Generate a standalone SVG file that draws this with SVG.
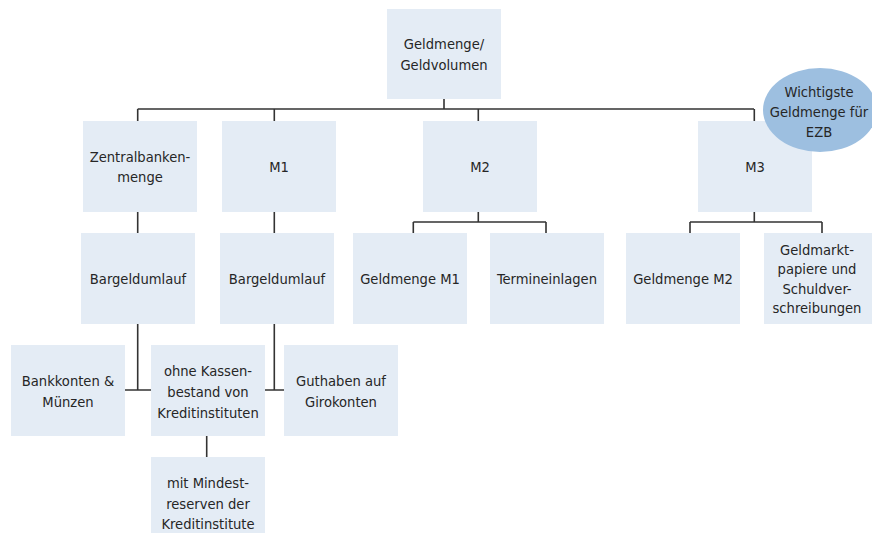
<svg xmlns="http://www.w3.org/2000/svg" width="872" height="533" viewBox="0 0 872 533">
<style>
.box{fill:#e4ecf5;}
.ell{fill:#9dbfe0;}
.t{font-family:"DejaVu Sans Condensed","DejaVu Sans","Liberation Sans",sans-serif;font-stretch:condensed;font-size:14.6px;fill:#262626;text-anchor:middle;}
.c{stroke:#333;stroke-width:1.6;fill:none;}
</style>
<rect width="872" height="533" fill="#fff"/>
<g id="connectors">
<path class="c" d="M444,99V109M137.7,109H754M137.7,109V121M274.3,109V121M478.3,109V121M754.3,109V121"/>
<path class="c" d="M137.7,212V233M137.7,324V390M125,390H151"/>
<path class="c" d="M274.3,212V233M274.3,324V390M265,390H284"/>
<path class="c" d="M478.3,212V222M413.3,222H546M413.3,222V233M546,222V233"/>
<path class="c" d="M754.3,212V222M690,222H822M690,222V233M822,222V233"/>
<path class="c" d="M206.7,436V457"/>
</g>
<g id="n-top"><rect class="box" x="387" y="9" width="114" height="90"/><text class="t" x="444" y="49">Geldmenge/</text><text class="t" x="444" y="70">Geldvolumen</text></g>
<g id="n-zentral"><rect class="box" x="83" y="121" width="114" height="91"/><text class="t" x="140" y="162">Zentralbanken-</text><text class="t" x="140" y="182">menge</text></g>
<g id="n-m1"><rect class="box" x="222" y="121" width="114" height="91"/><text class="t" x="279" y="172">M1</text></g>
<g id="n-m2"><rect class="box" x="423" y="121" width="114" height="91"/><text class="t" x="480" y="172">M2</text></g>
<g id="n-m3"><rect class="box" x="698" y="121" width="114" height="91"/><text class="t" x="755" y="172">M3</text></g>
<g id="n-ezb"><ellipse class="ell" cx="820" cy="110" rx="57" ry="42"/><text class="t" x="819" y="97">Wichtigste</text><text class="t" x="819" y="117">Geldmenge für</text><text class="t" x="819" y="137">EZB</text></g>
<g id="n-barg1"><rect class="box" x="81" y="233" width="114" height="91"/><text class="t" x="138" y="284">Bargeldumlauf</text></g>
<g id="n-barg2"><rect class="box" x="220" y="233" width="114" height="91"/><text class="t" x="277" y="284">Bargeldumlauf</text></g>
<g id="n-gm1"><rect class="box" x="353" y="233" width="114" height="91"/><text class="t" x="410" y="284">Geldmenge M1</text></g>
<g id="n-termin"><rect class="box" x="490" y="233" width="114" height="91"/><text class="t" x="547" y="284">Termineinlagen</text></g>
<g id="n-gm2"><rect class="box" x="626" y="233" width="114" height="91"/><text class="t" x="683" y="284">Geldmenge M2</text></g>
<g id="n-geldmarkt"><rect class="box" x="764" y="233" width="108" height="91"/><text class="t" x="817" y="255">Geldmarkt-</text><text class="t" x="817" y="274">papiere und</text><text class="t" x="817" y="294">Schuldver-</text><text class="t" x="817" y="313">schreibungen</text></g>
<g id="n-bank"><rect class="box" x="11" y="345" width="114" height="91"/><text class="t" x="68" y="386">Bankkonten &amp;</text><text class="t" x="68" y="407">Münzen</text></g>
<g id="n-ohne"><rect class="box" x="151" y="345" width="114" height="91"/><text class="t" x="208" y="376">ohne Kassen-</text><text class="t" x="208" y="397">bestand von</text><text class="t" x="208" y="418">Kreditinstituten</text></g>
<g id="n-guthaben"><rect class="box" x="284" y="345" width="114" height="91"/><text class="t" x="341" y="386">Guthaben auf</text><text class="t" x="341" y="407">Girokonten</text></g>
<g id="n-mit"><rect class="box" x="151" y="457" width="114" height="91"/><text class="t" x="208" y="488">mit Mindest-</text><text class="t" x="208" y="509">reserven der</text><text class="t" x="208" y="529">Kreditinstitute</text></g>
</svg>
